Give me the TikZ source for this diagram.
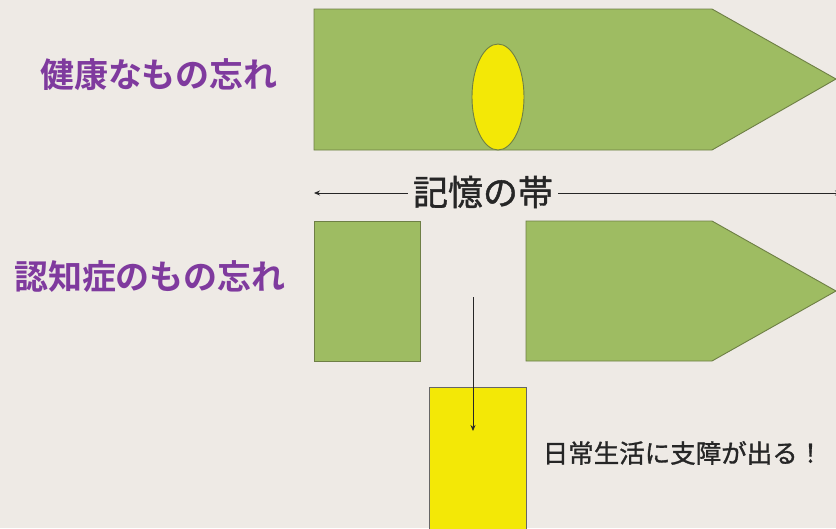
\documentclass[tikz,border=0pt]{standalone}
\usepackage{fontspec}
\setmainfont{Noto Sans CJK JP}
\newfontfamily\jpbold{Noto Sans CJK JP Bold}
\newfontfamily\jpmed[FakeBold=1.2]{Noto Sans CJK JP}
\usetikzlibrary{arrows.meta,shapes.geometric}
\definecolor{bg}{HTML}{EEEAE5}
\definecolor{grn}{HTML}{9EBC62}
\definecolor{grnline}{HTML}{6E7F45}
\definecolor{yel}{HTML}{F3E806}
\definecolor{purp}{HTML}{7F3A9E}
\tikzset{
  shapebox/.style={fill=grn, draw=grnline, line width=0.9pt},
  yelbox/.style={fill=yel, draw=gray!80!black, line width=0.6pt},
  label/.style={text=purp, font=\jpbold\fontsize{34}{40}\selectfont, inner sep=0pt},
  conn/.style={draw=black!85, line width=0.8pt, -{Stealth[length=6pt,width=5pt]}},
}
\begin{document}
\begin{tikzpicture}[x=1pt,y=-1pt]
\clip (0,0) rectangle (836,528);
\fill[bg] (0,0) rectangle (836,528);
% top pentagon
\draw[shapebox] (314,9) -- (712,9) -- (836,79) -- (712,150) -- (314,150) -- cycle;
\node[ellipse, draw=grnline, fill=yel, line width=0.9pt, minimum width=52pt, minimum height=106pt, inner sep=0pt] (oval) at (498,97) {};
% bottom shapes
\draw[shapebox] (314,221) rectangle (420,361);
\draw[shapebox] (526,221) -- (712,221) -- (836,291) -- (712,361) -- (526,361) -- cycle;
\draw[yelbox] (429,387) rectangle (526,532);
% labels
\node[label] (l1) at (159,75) {健康なもの忘れ};
\node[label] (l2) at (150,277) {認知症のもの忘れ};
\node[font=\jpmed\fontsize{35}{40}\selectfont, inner sep=5pt, text=black!85] (band) at (483,192) {記憶の帯};
\coordinate (bl) at (314,193);
\coordinate (br) at (841,193);
\draw[conn] (band.west |- bl) -- (bl);
\draw[conn] (band.east |- br) -- (br);
\coordinate (vt) at (473,297);
\coordinate (vb) at (473,431);
\draw[conn] (vt) -- (vb);
\node[font=\jpmed\fontsize{25.5}{30}\selectfont, inner sep=0pt, text=black!85] (daily) at (683,453) {日常生活に支障が出る！};
\end{tikzpicture}
\end{document}
